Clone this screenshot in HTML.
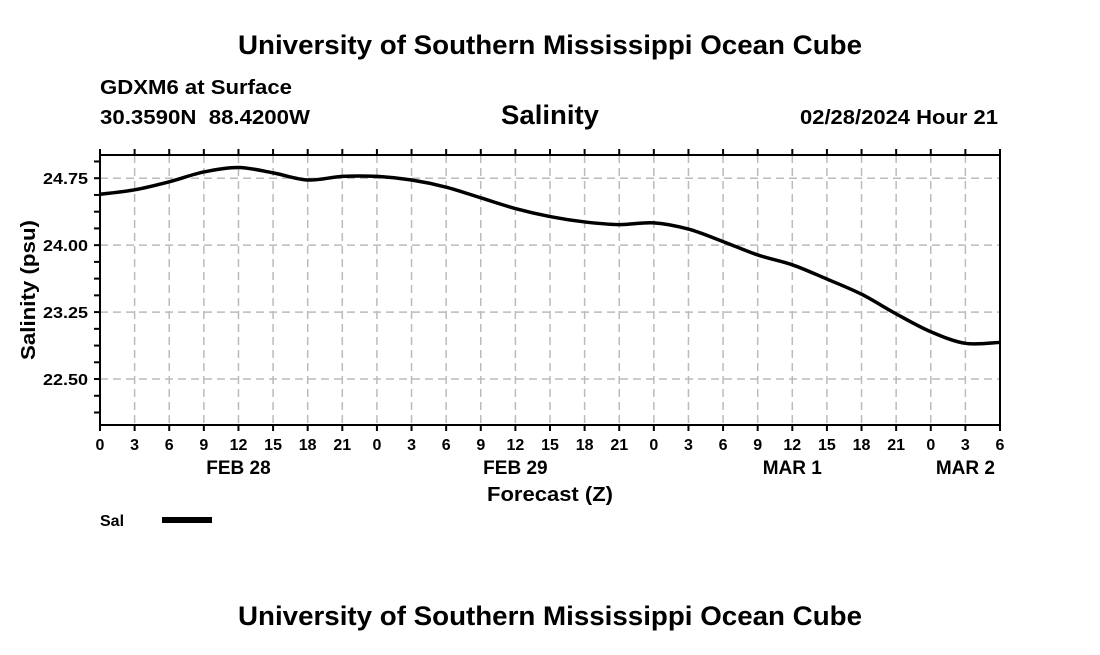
<!DOCTYPE html>
<html><head><meta charset="utf-8"><style>
body{margin:0;background:#fff;}
svg text{font-family:"Liberation Sans",sans-serif;font-weight:bold;fill:#000;}
</style></head><body>
<svg width="1100" height="650" viewBox="0 0 1100 650">
<text x="550" y="54" font-size="27" text-anchor="middle" textLength="624" lengthAdjust="spacingAndGlyphs">University of Southern Mississippi Ocean Cube</text>
<text x="100" y="94" font-size="20" textLength="192" lengthAdjust="spacingAndGlyphs">GDXM6 at Surface</text>
<text x="100" y="124" font-size="20" textLength="210" lengthAdjust="spacingAndGlyphs" xml:space="preserve">30.3590N  88.4200W</text>
<text x="550" y="124" font-size="27" text-anchor="middle" textLength="98" lengthAdjust="spacingAndGlyphs">Salinity</text>
<text x="800" y="124" font-size="20" textLength="198" lengthAdjust="spacingAndGlyphs">02/28/2024 Hour 21</text>
<g id="grid"></g>
<g id="axes"></g>
<path id="line" fill="none" stroke="#000" stroke-width="3.5" stroke-linejoin="round"></path>
<rect x="100" y="155" width="900" height="270" fill="none" stroke="#000" stroke-width="2"></rect>
<text x="487" y="501" font-size="20" textLength="126" lengthAdjust="spacingAndGlyphs">Forecast (Z)</text>
<text transform="translate(35,360) rotate(-90)" font-size="20" textLength="140" lengthAdjust="spacingAndGlyphs">Salinity (psu)</text>
<text x="100" y="526" font-size="16">Sal</text>
<line x1="162" y1="520" x2="212" y2="520" stroke="#000" stroke-width="6"></line>
<text x="550" y="625" font-size="27" text-anchor="middle" textLength="624" lengthAdjust="spacingAndGlyphs">University of Southern Mississippi Ocean Cube</text>
</svg>
<script>
const hours=[0,3,6,9,12,15,18,21,24,27,30,33,36,39,42,45,48,51,54,57,60,63,66,69,72,75,78];
const salinity=[24.57,24.62,24.71,24.82,24.87,24.81,24.73,24.77,24.77,24.73,24.65,24.53,24.41,24.32,24.26,24.23,24.25,24.18,24.04,23.89,23.78,23.62,23.45,23.23,23.03,22.90,22.91];
const yTicks=[22.50,23.25,24.00,24.75];
const xTickLabels=["0","3","6","9","12","15","18","21","0","3","6","9","12","15","18","21","0","3","6","9","12","15","18","21","0","3","6"];
const dayLabels=[{h:12,t:"FEB 28"},{h:36,t:"FEB 29"},{h:60,t:"MAR 1"},{h:75,t:"MAR 2"}];
const NS="http://www.w3.org/2000/svg";
const L=100,R=1000,T=155,B=425,ymin=21.985,ymax=25.01;
const xs=h=>L+(R-L)*h/78;
const ys=v=>B-(B-T)*(v-ymin)/(ymax-ymin);
const grid=document.getElementById('grid'),axes=document.getElementById('axes');
function mk(tag,attrs,parent){const e=document.createElementNS(NS,tag);for(const k in attrs)e.setAttribute(k,attrs[k]);parent.appendChild(e);return e;}
hours.forEach((h,i)=>{
  const x=xs(h);
  if(i>0&&i<hours.length-1){const g=mk('line',{x1:x,y1:T,x2:x,y2:B,stroke:'#bbb','stroke-width':1.5,'stroke-dasharray':'8,5'},grid);
  
  }
  const t1=mk('line',{x1:x,y1:B,x2:x,y2:B+6,stroke:'#000','stroke-width':2},axes);
  
  
  const t2=mk('line',{x1:x,y1:T,x2:x,y2:T-6,stroke:'#000','stroke-width':2},axes);
  
  
  const tl=mk('text',{x:x,y:450,'font-size':16,'text-anchor':'middle'},axes);tl.textContent=xTickLabels[i];
  
  
});
dayLabels.forEach(d=>{const t=mk('text',{x:xs(d.h),y:474,'font-size':19,'text-anchor':'middle'},axes);t.textContent=d.t;
  
  });
yTicks.forEach(v=>{
  const y=ys(v);
  const g=mk('line',{x1:L,y1:y,x2:R,y2:y,stroke:'#bbb','stroke-width':1.5,'stroke-dasharray':'8,5'},grid);
  
  
  const t=mk('text',{x:88,y:y+6,'font-size':16,'text-anchor':'end',textLength:45,lengthAdjust:'spacingAndGlyphs'},axes);t.textContent=v.toFixed(2);
  
  
});
for(let v=22.125;v<=25.0;v+=0.1875){const y=ys(v);if(y<T||y>B)continue;
  const m=mk('line',{x1:L-6,y1:y,x2:L,y2:y,stroke:'#000','stroke-width':2},axes);
  
  }
const pts=hours.map((h,i)=>[xs(h),ys(salinity[i])]);
let d='M'+pts[0][0]+','+pts[0][1];
for(let i=0;i<pts.length-1;i++){const p0=pts[Math.max(0,i-1)],p1=pts[i],p2=pts[i+1],p3=pts[Math.min(pts.length-1,i+2)];
  d+=' C'+(p1[0]+(p2[0]-p0[0])/6)+','+(p1[1]+(p2[1]-p0[1])/6)+' '+(p2[0]-(p3[0]-p1[0])/6)+','+(p2[1]-(p3[1]-p1[1])/6)+' '+p2[0]+','+p2[1];}
document.getElementById('line').setAttribute('d',d);
</script>
</body></html>
